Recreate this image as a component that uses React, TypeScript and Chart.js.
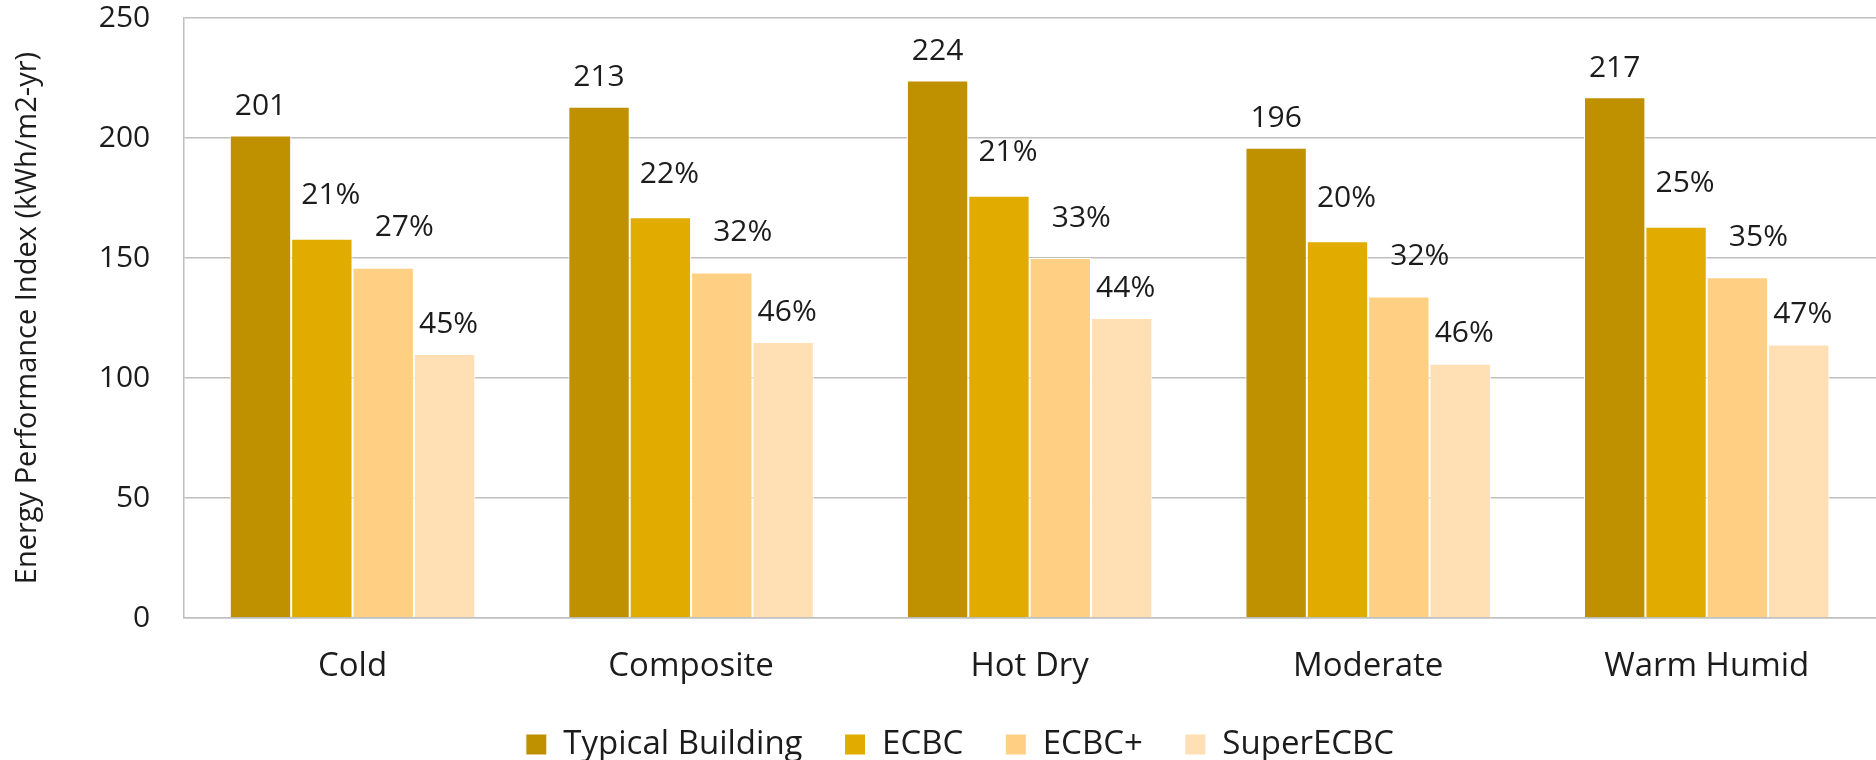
import React, { useEffect, useRef } from "react";
import { Chart, registerables } from "chart.js";

Chart.register(...registerables);

const categories = ["Cold", "Composite", "Hot Dry", "Moderate", "Warm Humid"];
const typicalBuilding = [201, 213, 224, 196, 217];
const ecbc = [158, 167, 176, 157, 163];
const ecbcPlus = [146, 144, 150, 134, 142];
const superEcbc = [110, 115, 125, 106, 114];
const ecbcSavings = [21, 22, 21, 20, 25];
const ecbcPlusSavings = [27, 32, 33, 32, 35];
const superEcbcSavings = [45, 46, 44, 46, 47];
const yTicks = [0, 50, 100, 150, 200, 250];

const FONT = "'Open Sans', Lato, sans-serif";
const FS = 30;
const FS_BIG = 33;
const TEXT = "#1c1c1c";
const GRID = "#bfbfbf";
const CLEAR = "rgba(0,0,0,0)";

const labelSets: (number[] | null)[] = [null, ecbcSavings, ecbcPlusSavings, superEcbcSavings];
const labelDx = [0, 9, 21, 4];
const labelDy = [29, 43, 40, 30];

const labelPlugin = {
  id: "barLabels",
  afterDatasetsDraw(chart: any) {
    const ctx = chart.ctx;
    ctx.save();
    ctx.font = `${FS}px ${FONT}`;
    ctx.fillStyle = TEXT;
    ctx.textAlign = "center";
    ctx.textBaseline = "middle";
    chart.data.datasets.forEach((ds: any, di: number) => {
      const meta = chart.getDatasetMeta(di);
      meta.data.forEach((bar: any, i: number) => {
        const set = labelSets[di];
        const text = set ? `${set[i]}%` : String(ds.data[i]);
        ctx.fillText(text, bar.x + labelDx[di], bar.y - labelDy[di]);
      });
    });
    ctx.restore();
  },
};

export default function App() {
  const ref = useRef<HTMLCanvasElement>(null);
  useEffect(() => {
    if (!ref.current) return;
    const mk = (label: string, data: number[], color: string) => ({
      label,
      data,
      backgroundColor: color,
      borderColor: "#ffffff",
      borderWidth: 1,
      borderSkipped: "bottom",
      categoryPercentage: 0.725,
      barPercentage: 1,
    });
    const chart = new Chart(ref.current, {
      type: "bar",
      data: {
        labels: categories,
        datasets: [
          mk("Typical Building", typicalBuilding, "#BF9000"),
          mk("ECBC", ecbc, "#E1AB00"),
          mk("ECBC+", ecbcPlus, "#FFD084"),
          mk("SuperECBC", superEcbc, "#FFDFB3"),
        ] as any,
      },
      options: {
        animation: false,
        responsive: true,
        maintainAspectRatio: false,
        layout: { padding: { left: 10, right: -34, top: 0, bottom: -11 } },
        plugins: {
          tooltip: { enabled: false },
          legend: {
            position: "bottom",
            labels: {
              font: { family: FONT, size: FS_BIG },
              color: TEXT,
              boxWidth: 21,
              boxHeight: 21,
              padding: 42,
            },
          },
        },
        scales: {
          x: {
            grid: {
              display: true,
              drawOnChartArea: false,
              drawTicks: true,
              tickLength: 30,
              tickColor: CLEAR,
            },
            border: { display: true, color: GRID, width: 1.5 },
            ticks: { font: { family: FONT, size: FS_BIG, lineHeight: 0.36 }, color: TEXT, padding: 13 },
          },
          y: {
            min: 0,
            max: 250,
            afterBuildTicks: (axis: any) => {
              axis.ticks = yTicks.map((v) => ({ value: v }));
            },
            grid: { color: GRID, lineWidth: 1.5, drawTicks: true, tickLength: 33, tickColor: CLEAR },
            border: { display: true, color: GRID, width: 1.5 },
            ticks: { font: { family: FONT, size: FS }, color: TEXT, padding: 0 },
            title: {
              display: true,
              text: "Energy Performance Index (kWh/m2-yr)",
              font: { family: FONT, size: 29 },
              color: TEXT,
              padding: { top: 0, bottom: 54 },
            },
          },
        },
      },
      plugins: [labelPlugin],
    });
    return () => chart.destroy();
  }, []);
  return (
    <div style={{ position: "fixed", left: 0, top: 0, width: 1876, height: 760, background: "#fff" }}>
      <canvas ref={ref} />
    </div>
  );
}
